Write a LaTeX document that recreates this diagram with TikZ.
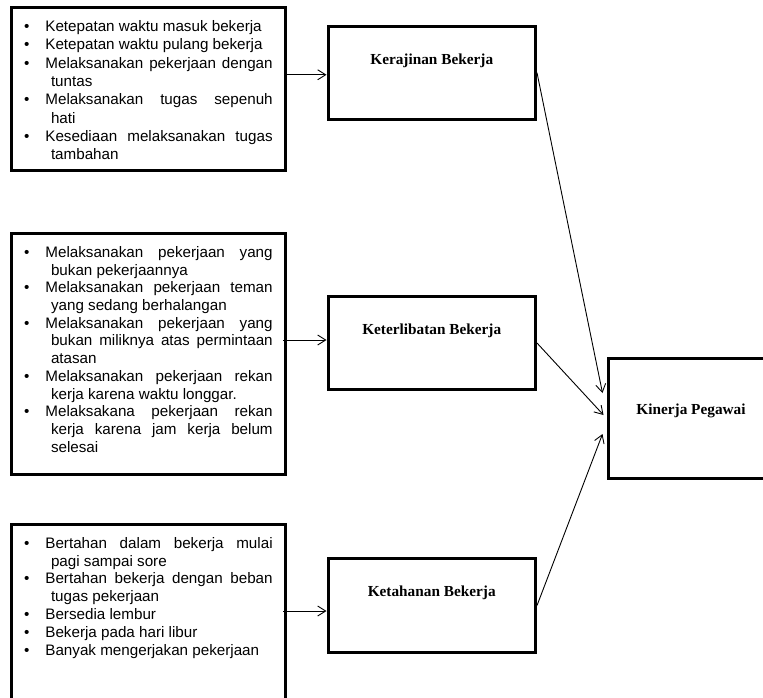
\documentclass[tikz,border=0pt]{standalone}
\usepackage{fontspec}
\setmainfont{Liberation Serif}
\setsansfont{Liberation Sans}
\usetikzlibrary{calc,arrows.meta}
\tolerance=10000
\hbadness=10000
\newcommand{\butir}[1]{\par\noindent\hangindent=26.8pt\hangafter=1\makebox[21.2pt][l]{\rule{0pt}{12pt}\textbullet}#1\par}

\begin{document}
\begin{tikzpicture}[x=1pt,y=-1pt,
    indbox/.style={draw,line width=3pt,minimum width=274pt,inner sep=0pt},
    indlist/.style={inner sep=0pt,text width=248.5pt,align=justify,anchor=north west,
        font=\sffamily\fontsize{15.2}{#1}\selectfont},
    varbox/.style={draw,line width=3pt,inner sep=0pt,minimum width=207.5pt,
        text height=38pt,text depth=55.5pt,font=\rmfamily\bfseries\fontsize{15.3}{18}\selectfont},
    arr/.style={-{Straight Barb[length=8pt,width=10pt]},line width=0.9pt}]
                \clip (0,0) rectangle (763,697);
                \node [indbox,minimum height=163pt] (indKerajinan) at (148.5,89) {};
                \node [indbox,minimum height=241pt] (indKeterlibatan) at (148.5,353.5) {};
                \node [indbox,minimum height=200pt] (indKetahanan) at (148.5,624.5) {};
                \node [indlist=18.3] (listKerajinan) at ($(indKerajinan.north west)+(14,7)$) {%
                    \butir{Ketepatan waktu masuk bekerja}
                    \butir{Ketepatan waktu pulang bekerja}
                    \butir{Melaksanakan pekerjaan dengan\linebreak tuntas}
                    \butir{Melaksanakan tugas sepenuh\linebreak hati}
                    \butir{Kesediaan melaksanakan tugas\linebreak tambahan}};
                \node [indlist=17.7] (listKeterlibatan) at ($(indKeterlibatan.north west)+(14,8)$) {%
                    \butir{Melaksanakan pekerjaan yang\linebreak bukan pekerjaannya}
                    \butir{Melaksanakan pekerjaan teman\linebreak yang sedang berhalangan}
                    \butir{Melaksanakan pekerjaan yang\linebreak bukan miliknya atas permintaan\linebreak atasan}
                    \butir{Melaksanakan pekerjaan rekan\linebreak kerja karena waktu longgar.}
                    \butir{Melaksakana pekerjaan rekan\linebreak kerja karena jam kerja belum\linebreak selesai}};
                \node [indlist=17.9] (listKetahanan) at ($(indKetahanan.north west)+(14,7)$) {%
                    \butir{Bertahan dalam bekerja mulai\linebreak pagi sampai sore}
                    \butir{Bertahan bekerja dengan beban\linebreak tugas pekerjaan}
                    \butir{Bersedia lembur}
                    \butir{Bekerja pada hari libur}
                    \butir{Banyak mengerjakan pekerjaan}};
                \node [varbox] (kerajinan) at (431.75,72.75) {Kerajinan Bekerja};
                \node [varbox] (keterlibatan) at (431.75,343) {Keterlibatan Bekerja};
                \node [varbox] (ketahanan) at (431.75,605.5) {Ketahanan Bekerja};
                \node [varbox,minimum width=166pt,text height=56pt,text depth=64pt] (kinerja) at (691,418) {Kinerja Pegawai};
                \draw [arr] ($(indKerajinan.east |- kerajinan.west)+(0,2)$) -- ($(kerajinan.west)+(0,2)$);
                \draw [arr] ($(indKeterlibatan.east |- keterlibatan.west)+(-4,-3)$) -- ($(keterlibatan.west)+(0,-3)$);
                \draw [arr] ($(indKetahanan.east |- ketahanan.west)+(-4,5.5)$) -- ($(ketahanan.west)+(0,5.5)$);
                \draw [arr] (kerajinan.east) -- ($(kinerja.west)+(-4,-25)$);
                \draw [arr] (keterlibatan.east) -- ($(kinerja.west)+(-3,-3)$);
                \draw [arr] (ketahanan.east) -- ($(kinerja.west)+(-4,16)$);
            \end{tikzpicture}
\end{document}
